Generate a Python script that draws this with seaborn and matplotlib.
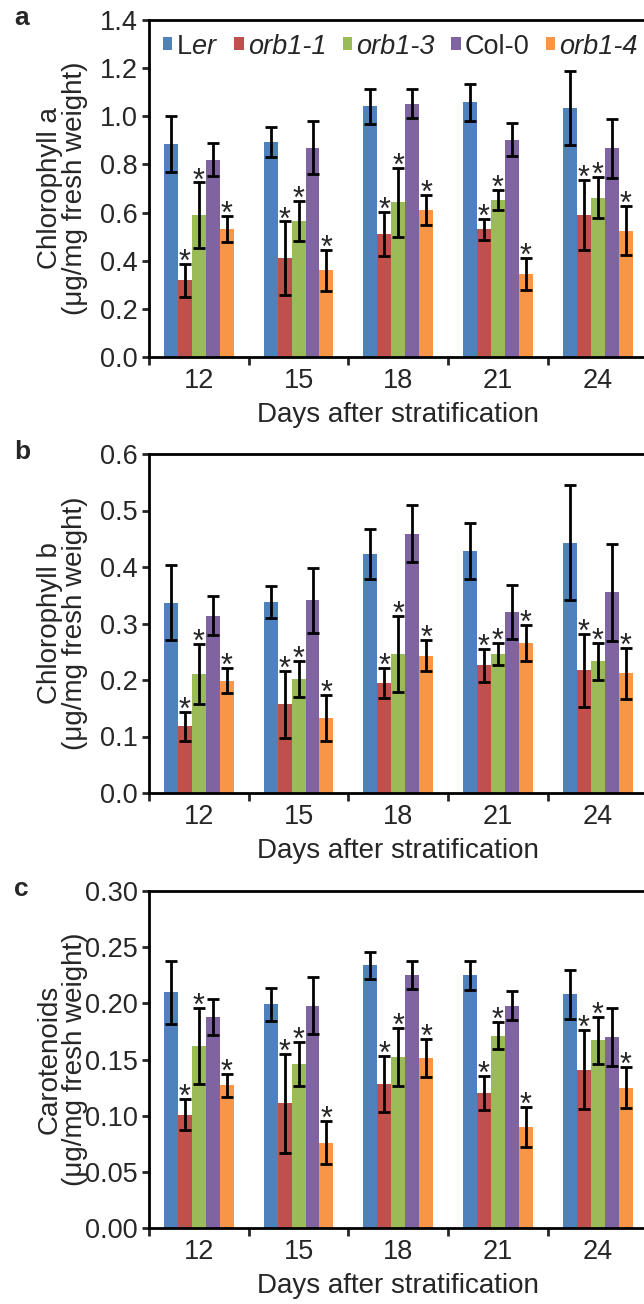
import numpy as np
import pandas as pd
import matplotlib
matplotlib.use('Agg')
import matplotlib.pyplot as plt
import seaborn as sns

# days after stratification and genotypes
days = ['12', '15', '18', '21', '24']
genotypes = ['Ler', 'orb1-1', 'orb1-3', 'Col-0', 'orb1-4']
colors = ['#4F81BD', '#C0504D', '#9BBB59', '#8064A2', '#F79646']
marked = ['orb1-1', 'orb1-3', 'orb1-4']  # genotypes with a significance asterisk

# rows follow genotypes, columns follow days
chla_mean = [[0.885, 0.892, 1.042, 1.058, 1.033],
             [0.318, 0.410, 0.510, 0.530, 0.590],
             [0.588, 0.566, 0.643, 0.652, 0.662],
             [0.820, 0.870, 1.053, 0.902, 0.867],
             [0.530, 0.361, 0.611, 0.345, 0.525]]
chla_err = [[0.115, 0.063, 0.072, 0.077, 0.154],
            [0.067, 0.153, 0.092, 0.042, 0.145],
            [0.137, 0.083, 0.143, 0.043, 0.085],
            [0.068, 0.110, 0.060, 0.069, 0.123],
            [0.054, 0.085, 0.062, 0.068, 0.101]]

chlb_mean = [[0.337, 0.338, 0.423, 0.428, 0.443],
             [0.118, 0.157, 0.195, 0.226, 0.217],
             [0.211, 0.202, 0.246, 0.246, 0.233],
             [0.314, 0.341, 0.459, 0.321, 0.355],
             [0.199, 0.133, 0.243, 0.265, 0.212]]
chlb_err = [[0.066, 0.029, 0.045, 0.049, 0.102],
            [0.026, 0.059, 0.027, 0.029, 0.065],
            [0.053, 0.032, 0.068, 0.019, 0.033],
            [0.035, 0.058, 0.051, 0.048, 0.086],
            [0.022, 0.041, 0.027, 0.032, 0.045]]

car_mean = [[0.210, 0.199, 0.234, 0.225, 0.208],
            [0.101, 0.111, 0.128, 0.120, 0.141],
            [0.162, 0.146, 0.152, 0.171, 0.167],
            [0.188, 0.198, 0.225, 0.198, 0.170],
            [0.127, 0.076, 0.151, 0.090, 0.125]]
car_err = [[0.028, 0.015, 0.012, 0.013, 0.022],
           [0.014, 0.044, 0.025, 0.015, 0.035],
           [0.034, 0.020, 0.026, 0.012, 0.021],
           [0.016, 0.025, 0.0125, 0.013, 0.026],
           [0.010, 0.019, 0.017, 0.018, 0.018]]

sns.set_style('ticks')
plt.rcParams['font.family'] = ['Liberation Sans', 'DejaVu Sans']
plt.rcParams['mathtext.fontset'] = 'custom'
plt.rcParams['mathtext.rm'] = 'Liberation Sans'
plt.rcParams['mathtext.it'] = 'Liberation Sans:italic'

W, H = 644, 1304
fig = plt.figure(figsize=(W / 100, H / 100), dpi=100)

panels = [
    ('a', chla_mean, chla_err, 'Chlorophyll a', 1.4, 0.2, '%.1f', 20, 357),
    ('b', chlb_mean, chlb_err, 'Chlorophyll b', 0.6, 0.1, '%.1f', 454, 793),
    ('c', car_mean, car_err, 'Carotenoids', 0.30, 0.05, '%.2f', 891, 1228),
]

ax_left, ax_width = 149, 498.5

for i, (letter, mean, err, name, ymax, step, fmt, top, bottom) in enumerate(panels):
    ax = fig.add_axes([ax_left / W, 1 - bottom / H, ax_width / W, (bottom - top) / H])
    df = pd.DataFrame({'day': np.tile(days, len(genotypes)),
                       'genotype': np.repeat(genotypes, len(days)),
                       'value': np.ravel(mean)})
    sns.barplot(data=df, x='day', y='value', hue='genotype', order=days,
                hue_order=genotypes, palette=colors, saturation=1, width=0.7,
                errorbar=None, linewidth=0, legend=(i == 0), ax=ax)

    bar_groups = list(ax.containers)
    for gi, cont in enumerate(bar_groups):
        xs = [b.get_x() + b.get_width() / 2 for b in cont]
        ax.errorbar(xs, mean[gi], yerr=err[gi], fmt='none', ecolor='black',
                    elinewidth=2, capsize=4.5, capthick=2, zorder=3)
        if genotypes[gi] in marked:
            for x, m, e in zip(xs, mean[gi], err[gi]):
                ax.annotate('*', (x, m + e), xytext=(0, -5), textcoords='offset points',
                            ha='center', va='baseline', fontsize=22)

    ax.set_ylim(0, ymax)
    yt = np.arange(0, ymax + step / 2, step)
    ax.set_yticks(yt)
    ax.set_yticklabels([fmt % v for v in yt])
    ax.set_xlim(-0.5, 4.5)
    ax.set_xticks(np.arange(-0.5, 5, 1))
    ax.set_xticklabels([])
    ax.set_xticks(range(len(days)), minor=True)
    ax.set_xticklabels(days, minor=True)
    ax.tick_params(axis='x', which='major', direction='out', length=6, width=2)
    ax.tick_params(axis='x', which='minor', length=0, pad=8, labelsize=19.5)
    ax.tick_params(axis='y', direction='out', length=5, width=2, labelsize=19.5, pad=3)

    for side in ['left', 'bottom', 'top']:
        ax.spines[side].set_linewidth(2)
        ax.spines[side].set_color('black')
    ax.spines['right'].set_visible(False)

    ax.set_xlabel('Days after stratification', fontsize=20, labelpad=6)
    ax.set_ylabel(name + '\n(\u03bcg/mg fresh weight)', fontsize=20, linespacing=0.97)
    ax.yaxis.set_label_coords(-0.122, 0.5)

    fig.text(14 / W, 1 - (top - 2) / H, letter, fontsize=19, fontweight='bold', va='center')

    if i == 0:
        handles, labels = ax.get_legend_handles_labels()
        names = [r'L$\mathit{er}$', 'orb1-1', 'orb1-3', 'Col-0', 'orb1-4']
        leg = ax.legend(handles, names, loc='upper left', bbox_to_anchor=(0.0, 1.0),
                        ncol=5, frameon=False, fontsize=19.5, handlelength=0.35,
                        handleheight=0.35, handletextpad=0.15, columnspacing=0.6,
                        borderaxespad=0.1)
        for t, g in zip(leg.get_texts(), genotypes):
            if g.startswith('orb'):
                t.set_style('italic')

fig.savefig('out.png', dpi=100)
